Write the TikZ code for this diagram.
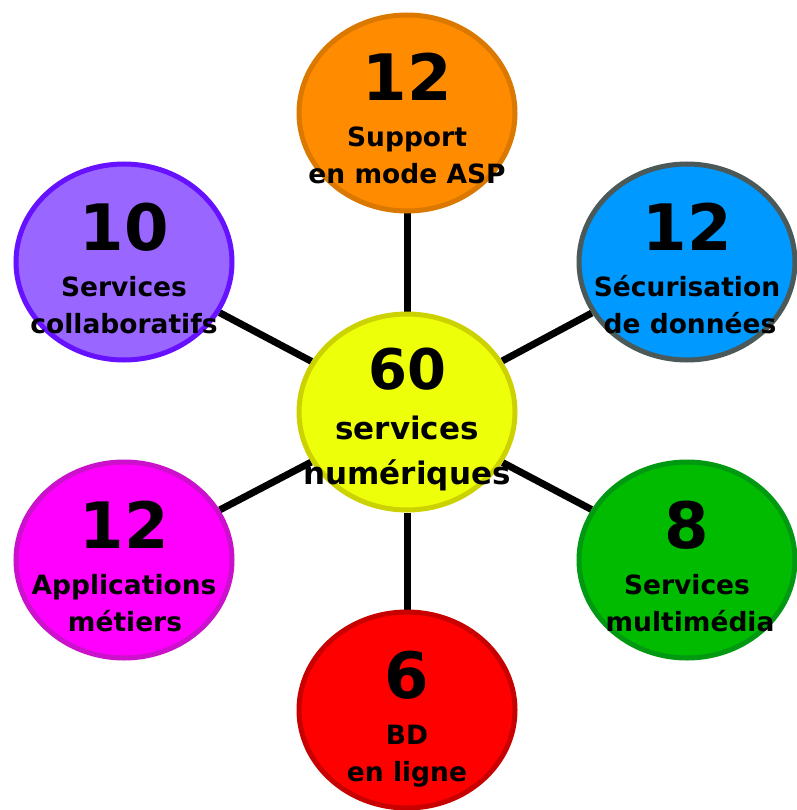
\documentclass[tikz,border=0pt]{standalone}
\usepackage{fontspec}
\setmainfont{DejaVu Sans}
\usepackage{tikz}
\usetikzlibrary{shapes,backgrounds}
\definecolor{aspfill}{HTML}{FF8C00}
\definecolor{aspdraw}{HTML}{DA7800}
\definecolor{secfill}{HTML}{0099FF}
\definecolor{secdraw}{HTML}{4B5959}
\definecolor{colfill}{HTML}{9966FF}
\definecolor{coldraw}{HTML}{6611FF}
\definecolor{hubfill}{HTML}{EEFF0A}
\definecolor{hubdraw}{HTML}{CCD200}
\definecolor{metfill}{HTML}{FF00FF}
\definecolor{metdraw}{HTML}{CC11CC}
\definecolor{bdfill}{HTML}{FF0000}
\definecolor{bddraw}{HTML}{C80000}
\definecolor{mmfill}{HTML}{00BB00}
\definecolor{mmdraw}{HTML}{009911}
\tikzstyle{bubble} = [ellipse, draw, line width=5pt, minimum width=216pt,
    minimum height=196pt, inner sep=0pt]
\tikzstyle{numtext} = [font=\fontsize{64}{64}\selectfont\bfseries, anchor=base, inner sep=0pt]
\tikzstyle{hubnum} = [font=\fontsize{56}{56}\selectfont\bfseries, anchor=base, inner sep=0pt]
\tikzstyle{labeltext} = [font=\fontsize{26.5}{26.5}\selectfont\bfseries, anchor=base, inner sep=0pt]
\tikzstyle{hubtext} = [font=\fontsize{31}{31}\selectfont\bfseries, anchor=base, inner sep=0pt]
\tikzset{
  spoke/.style ={draw, line width=7pt}
}
\begin{document}
\begin{tikzpicture}[x=1pt, y=-1pt]
   \useasboundingbox (0,0) rectangle (796,810);
   \node [bubble, fill=hubfill, draw=hubdraw] (hub) at (407,412) {};
   \node [bubble, fill=aspfill, draw=aspdraw] (asp) at (407,113) {};
   \node [bubble, fill=secfill, draw=secdraw] (securite) at (687,262) {};
   \node [bubble, fill=mmfill, draw=mmdraw] (multimedia) at (687,560) {};
   \node [bubble, fill=bdfill, draw=bddraw] (bd) at (407,710) {};
   \node [bubble, fill=metfill, draw=metdraw] (metiers) at (124,560) {};
   \node [bubble, fill=colfill, draw=coldraw] (collab) at (124,262) {};
   % spokes behind the bubbles and their texts
   \begin{scope}[on background layer]
   \path [spoke] (hub) -- (asp);
   \path [spoke] (hub) -- (securite);
   \path [spoke] (hub) -- (multimedia);
   \path [spoke] (hub) -- (bd);
   \path [spoke] (hub) -- (metiers);
   \path [spoke] (hub) -- (collab);
   \end{scope}
   % texts
   \node [hubnum] (hub_num) at ([yshift=23pt]hub.center) {60};
   \node [hubtext] (hub_l1) at ([yshift=-27pt]hub.center) {services};
   \node [hubtext] (hub_l2) at ([yshift=-72pt]hub.center) {numériques};
   \node [numtext] (asp_num) at ([yshift=12pt]asp.center) {12};
   \node [labeltext] (asp_l1) at ([yshift=-34pt]asp.center) {Support};
   \node [labeltext] (asp_l2) at ([yshift=-71pt]asp.center) {en mode ASP};
   \node [numtext] (securite_num) at ([yshift=12pt]securite.center) {12};
   \node [labeltext] (securite_l1) at ([yshift=-34pt]securite.center) {Sécurisation};
   \node [labeltext] (securite_l2) at ([xshift=3pt,yshift=-71pt]securite.center) {de données};
   \node [numtext] (multimedia_num) at ([yshift=12pt]multimedia.center) {8};
   \node [labeltext] (multimedia_l1) at ([yshift=-34pt]multimedia.center) {Services};
   \node [labeltext] (multimedia_l2) at ([xshift=3pt,yshift=-71pt]multimedia.center) {multimédia};
   \node [numtext] (bd_num) at ([yshift=12pt]bd.center) {6};
   \node [labeltext] (bd_l1) at ([yshift=-34pt]bd.center) {BD};
   \node [labeltext] (bd_l2) at ([yshift=-71pt]bd.center) {en ligne};
   \node [numtext] (metiers_num) at ([yshift=12pt]metiers.center) {12};
   \node [labeltext] (metiers_l1) at ([yshift=-34pt]metiers.center) {Applications};
   \node [labeltext] (metiers_l2) at ([xshift=1pt,yshift=-71pt]metiers.center) {métiers};
   \node [numtext] (collab_num) at ([yshift=12pt]collab.center) {10};
   \node [labeltext] (collab_l1) at ([yshift=-34pt]collab.center) {Services};
   \node [labeltext] (collab_l2) at ([yshift=-71pt]collab.center) {collaboratifs};
\end{tikzpicture}
\end{document}
